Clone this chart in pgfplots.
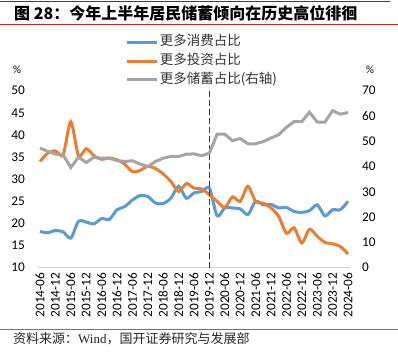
\documentclass[border=0pt]{standalone}
\usepackage{fontspec}
\setmainfont{Carlito}
\newfontfamily\cjk{Noto Sans CJK SC}
\newfontfamily\serif{Liberation Serif}
\usepackage{pgfplots}
\usepackage{pgfplotstable}
\pgfplotsset{compat=1.18}
\definecolor{cblue}{HTML}{5B9BD5}
\definecolor{corange}{HTML}{ED7D31}
\definecolor{cgray}{HTML}{A5A5A5}
\definecolor{cred}{RGB}{192,0,0}
\pgfplotstableread{
k blue orange gray
0 18.2 34.0 47.3
1 17.9 35.9 46.0
2 18.4 36.4 44.9
3 18.1 35.5 44.7
4 16.7 43.0 39.6
5 20.5 35.3 43.7
6 20.3 36.9 41.6
7 19.9 35.3 43.7
8 21.1 34.5 43.3
9 20.9 34.8 43.3
10 23.1 34.4 42.4
11 23.8 33.4 42.0
12 25.3 31.7 42.3
13 26.3 32.0 41.0
14 26.1 32.9 40.0
15 24.6 32.4 42.0
16 24.5 31.2 43.3
17 25.7 29.5 44.0
18 28.4 27.2 44.0
19 25.7 29.0 44.9
20 26.9 28.0 45.0
21 27.2 27.8 44.3
22 28.0 26.5 45.3
23 21.7 25.0 52.8
24 23.5 23.6 52.8
25 23.5 26.0 50.2
26 23.3 25.0 51.1
27 22.0 28.4 49.0
28 25.0 25.0 49.0
29 24.2 24.6 49.9
30 24.3 23.5 51.3
31 23.5 21.6 52.6
32 23.6 17.8 55.5
33 22.7 19.0 57.8
34 22.5 15.6 57.8
35 22.9 18.7 61.5
36 24.2 17.1 57.6
37 21.7 15.7 57.6
38 23.1 15.4 62.1
39 23.1 14.8 60.7
40 25.0 13.1 61.4
}\datatable
\begin{document}
\begin{tikzpicture}[x=1pt,y=1pt]
\path[use as bounding box] (0,0) rectangle (398,359);
\draw[line width=1.5pt, black!75] (0,357.5) -- (390,357.5);
\draw[cred!85, line width=0.8pt] (0,335) -- (398,335);
\node[anchor=west, inner sep=0pt, font=\cjk\bfseries\fontsize{16}{18}\selectfont] at (14,346) {图 28：今年上半年居民储蓄倾向在历史高位徘徊};
\draw[cred!70, line width=0.8pt] (0,29.7) -- (398,29.7);
\node[anchor=west, inner sep=0pt, font=\fontsize{13}{15}\selectfont, text=black!85] at (13,20) {\cjk 资料来源：\serif Wind\cjk ，国开证券研究与发展部};
\node[font=\fontsize{11}{12}\selectfont] at (17,289) {\%};
\node[font=\fontsize{11}{12}\selectfont] at (370,289) {\%};
\begin{axis}[
  at={(38pt,91.3pt)}, anchor=south west, scale only axis,
  width=312pt, height=177pt,
  xmin=-0.26, xmax=40.26, ymin=10, ymax=50,
  axis x line*=bottom, axis y line*=left,
  x axis line style={-, draw=black!18, line width=0.9pt},
  y axis line style={draw=none},
  major tick length=0pt,
  xtick={0,2,...,40},
  xticklabels={2014-06,2014-12,2015-06,2015-12,2016-06,2016-12,2017-06,2017-12,2018-06,2018-12,2019-06,2019-12,2020-06,2020-12,2021-06,2021-12,2022-06,2022-12,2023-06,2023-12,2024-06},
  xticklabel style={rotate=90, anchor=east, inner sep=0pt, font=\fontsize{13.3}{14}\selectfont},
  xticklabel shift=5pt,
  ytick={10,15,...,50},
  yticklabel style={anchor=east, inner sep=0pt, font=\fontsize{13.3}{14}\selectfont},
  yticklabel shift=13pt,
  /pgf/number format/assume math mode=true,
  legend style={at={(0.279,1.32)}, anchor=north west, draw=none, fill=none, inner sep=0pt, row sep=2.8pt,
    font=\cjk\fontsize{13.5}{14}\selectfont, text=black!80,
    nodes={inner sep=1.5pt, text height=10pt, text depth=3pt}},
  legend cell align=left,
  legend image code/.code={\draw[#1] (0pt,0pt) -- (30pt,0pt);},
]
\addplot[cblue, line width=3pt, smooth, tension=0.45] table[x=k,y=blue]{\datatable};
\addlegendentry{更多消费占比}
\addplot[corange, line width=3pt, smooth, tension=0.45] table[x=k,y=orange]{\datatable};
\addlegendentry{更多投资占比}
\addlegendimage{cgray, line width=3pt}
\addlegendentry{更多储蓄占比(右轴)}
\addplot[cred, line width=1.6pt, dash pattern=on 6pt off 3pt, forget plot] coordinates {(22,10) (22,50)};
\end{axis}
\begin{axis}[
  at={(38pt,91.3pt)}, anchor=south west, scale only axis,
  width=312pt, height=177pt,
  xmin=-0.26, xmax=40.26, ymin=0, ymax=70,
  axis x line=none, axis y line*=right,
  y axis line style={draw=none},
  major tick length=0pt,
  ytick={0,10,...,70},
  yticklabel style={anchor=west, inner sep=0pt, font=\fontsize{13.3}{14}\selectfont},
  yticklabel shift=12pt,
  /pgf/number format/assume math mode=true,
]
\addplot[cgray, line width=3pt] table[x=k,y=gray]{\datatable};
\end{axis}
\end{tikzpicture}
\end{document}
